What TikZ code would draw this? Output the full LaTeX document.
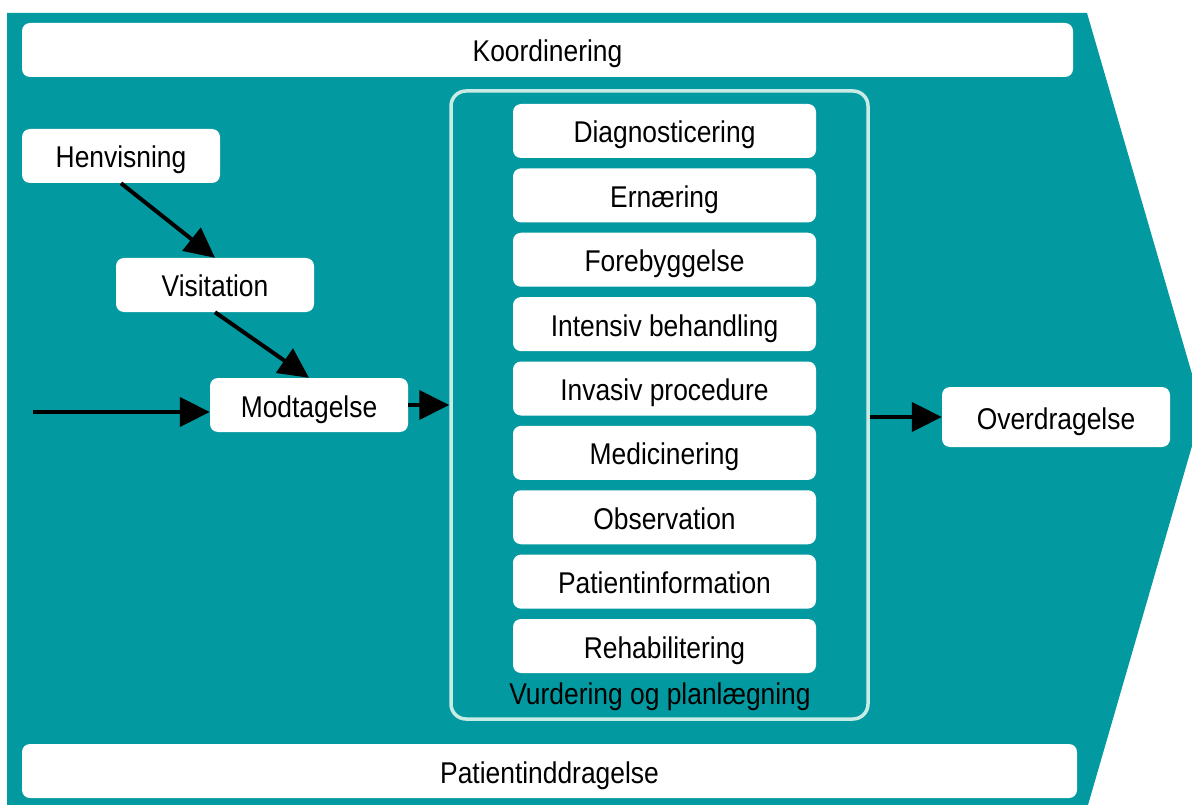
\documentclass[tikz,border=0pt]{standalone}
\usepackage{fontspec}
\setmainfont{Liberation Sans}[FakeStretch=0.88]
\usetikzlibrary{arrows.meta}
\definecolor{bandteal}{RGB}{3,153,160}
\definecolor{framemint}{RGB}{200,236,229}
\tikzset{
  label/.style={font=\fontsize{30}{32}\selectfont, text height=24pt, text depth=0pt, inner sep=0pt},
  box/.style={label, fill=white, rounded corners=8pt},
  flow/.style={line width=4pt, -{Triangle[length=30pt,width=29pt]}},
}
\begin{document}
\begin{tikzpicture}[x=1pt,y=-1pt]
\useasboundingbox (0,0) rectangle (1192,805);
% chevron-shaped background band
\fill[bandteal] (7,13) -- (1087,13) -- (1192,374) -- (1192,446) -- (1088,805) -- (7,805) -- cycle;

% full-width bands
\node[box, minimum width=1051pt, minimum height=54pt] (koord) at (547.5,50) {Koordinering};
\node[box, minimum width=1055pt, minimum height=54pt] (inddr) at (549.5,771) {Patientinddragelse};

% intake steps
\node[box, minimum width=198pt, minimum height=54pt] (henv) at (121,156) {Henvisning};
\node[box, minimum width=198pt, minimum height=54pt] (visit) at (215,285) {Visitation};
\node[box, minimum width=198pt, minimum height=54pt] (modt) at (309,405) {Modtagelse};
\node[box, minimum width=228pt, minimum height=60pt] (over) at (1056,417) {Overdragelse};

% assessment and planning frame
\node[draw=framemint, line width=3.5pt, rounded corners=15pt, minimum width=417pt, minimum height=628pt, inner sep=0pt] (cont) at (659.5,405) {};
\node[label] (vurd) at (660,692) {Vurdering og planlægning};
\foreach \t [count=\i] in {Diagnosticering,Ernæring,Forebyggelse,Intensiv behandling,Invasiv procedure,Medicinering,Observation,Patientinformation,Rehabilitering}
  \node[box, minimum width=303pt, minimum height=54pt] (s\i) at (664.5,{131+64.375*(\i-1)}) {\t};

% flow connectors
\coordinate (entry) at (33,412);
\draw[flow] (henv.south) -- (visit.north);
\draw[flow] (visit.south) -- (modt.north);
\draw[flow] (entry) -- (entry -| modt.west);
\draw[flow] (modt.east) -- (modt.east -| cont.west);
\draw[flow] (cont.east |- over.west) -- (over.west);
\end{tikzpicture}
\end{document}
